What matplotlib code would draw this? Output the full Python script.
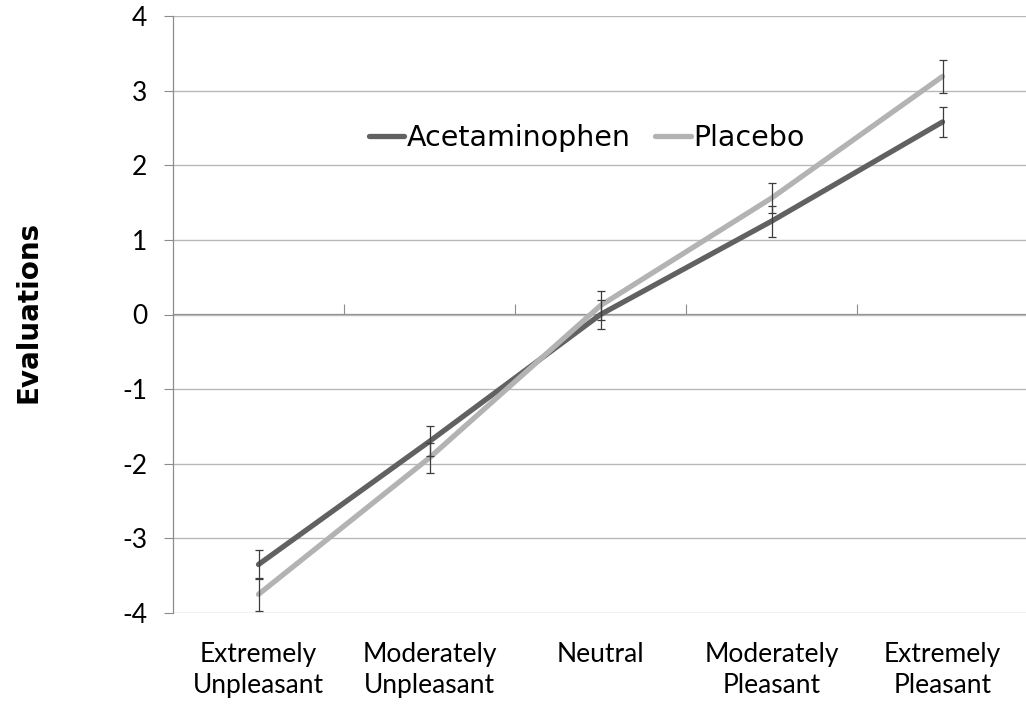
import numpy as np
import matplotlib
matplotlib.use("Agg")
import matplotlib.pyplot as plt

###### DATA ######
categories = ["Extremely\nUnpleasant", "Moderately\nUnpleasant", "Neutral",
              "Moderately\nPleasant", "Extremely\nPleasant"]
acetaminophen = [-3.35, -1.70, 0.00, 1.25, 2.58]
acetaminophen_err = [0.20, 0.20, 0.20, 0.21, 0.20]
placebo = [-3.75, -1.92, 0.12, 1.56, 3.19]
placebo_err = [0.22, 0.20, 0.20, 0.20, 0.22]
yticks = [-4, -3, -2, -1, 0, 1, 2, 3, 4]

###### STYLE ######
dark = "#616161"
light = "#b3b3b3"
grid_col = "#b9b9b9"
axis_col = "#8c8c8c"
err_col = "#3c3c3c"
label_font = "Lato"

x = np.arange(len(categories))

fig = plt.figure(figsize=(10.26, 7.07), dpi=100)
ax = fig.add_axes([173/1026, 1 - 613/707, 855/1026, 597/707])

# lines
ax.plot(x, acetaminophen, color=dark, lw=3.8, solid_capstyle="round",
        label="Acetaminophen", zorder=3)
ax.plot(x, placebo, color=light, lw=3.8, solid_capstyle="round",
        label="Placebo", zorder=3)

# error bars
ax.errorbar(x, acetaminophen, yerr=acetaminophen_err, fmt="none",
            ecolor=err_col, elinewidth=0.9, capsize=3, capthick=0.9, zorder=4)
ax.errorbar(x, placebo, yerr=placebo_err, fmt="none",
            ecolor=err_col, elinewidth=0.9, capsize=3, capthick=0.9, zorder=4)

ax.set_xlim(-0.5, 4.5)
ax.set_ylim(-4, 4)

# y axis
ax.set_yticks(yticks)
ax.set_yticklabels([str(v) for v in yticks], fontfamily=label_font, fontsize=19)
ax.tick_params(axis="y", direction="out", length=6.5, width=0.8,
               color=axis_col, pad=12)
ax.grid(axis="y", color=grid_col, lw=1.0)
ax.set_axisbelow(True)

# x labels at bottom
ax.set_xticks(x)
ax.set_xticklabels(categories, fontfamily=label_font, fontsize=19,
                   linespacing=1.3)
ax.tick_params(axis="x", length=0, pad=21)

for s in ["top", "right", "bottom"]:
    ax.spines[s].set_visible(False)
ax.spines["left"].set_color(axis_col)
ax.spines["left"].set_linewidth(0.9)

# category axis crossing at zero
sec = ax.secondary_xaxis(0.5)
sec.set_xticks([0.5, 1.5, 2.5, 3.5])
sec.set_xticklabels([])
sec.tick_params(axis="x", direction="out", length=7, width=0.8, color=axis_col)
for sp in sec.spines.values():
    sp.set_color(axis_col)
    sp.set_linewidth(0.9)

ax.set_ylabel("Evaluations", fontfamily="DejaVu Sans", fontweight="bold",
              fontsize=20)
ax.yaxis.set_label_coords(-0.153, 0.504)

ax.legend(loc="center", bbox_to_anchor=(0.484, 0.796), ncol=2, frameon=False,
          prop={"family": "DejaVu Sans", "size": 20.5}, handlelength=1.25,
          handletextpad=0.1, columnspacing=0.85, borderpad=0)

fig.savefig("out.png", dpi=100)
